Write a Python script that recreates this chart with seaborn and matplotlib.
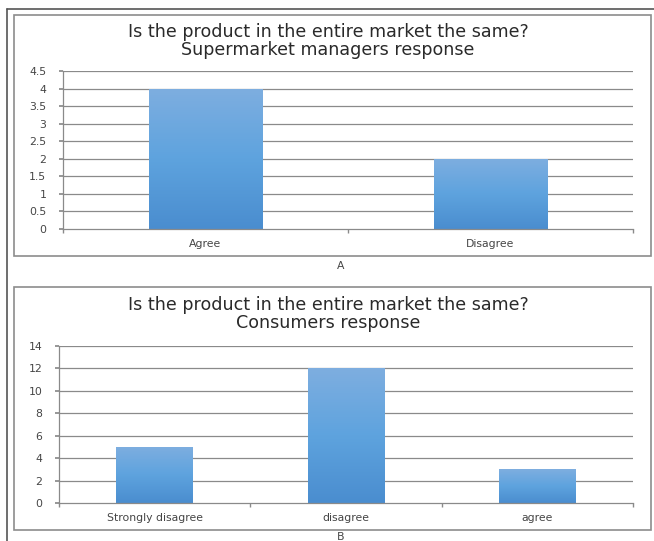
import numpy as np
import pandas as pd
import matplotlib
matplotlib.use("Agg")
import matplotlib.pyplot as plt
from matplotlib.patches import Rectangle
from matplotlib.lines import Line2D
from matplotlib.colors import LinearSegmentedColormap
import seaborn as sns

# Survey data
managers_categories = ["Agree", "Disagree"]
managers_counts = [4, 2]
managers_yticks = [0, 0.5, 1, 1.5, 2, 2.5, 3, 3.5, 4, 4.5]
managers_ytick_labels = ["0", "0.5", "1", "1.5", "2", "2.5", "3", "3.5", "4", "4.5"]

consumers_categories = ["Strongly disagree", "disagree", "agree"]
consumers_counts = [5, 12, 3]
consumers_yticks = [0, 2, 4, 6, 8, 10, 12, 14]
consumers_ytick_labels = ["0", "2", "4", "6", "8", "10", "12", "14"]

title_line1 = "Is the product in the entire market the same?"
managers_title2 = "Supermarket managers response"
consumers_title2 = "Consumers response"

sns.set_theme(style="white")
plt.rcParams["font.family"] = ["DejaVu Sans"]

W, H = 654, 541
fig = plt.figure(figsize=(W / 100, H / 100), dpi=100)
fig.patch.set_facecolor("white")

GRID = "#8a8a8a"
TEXT = "#454545"
TITLE = "#2a2a2a"
TITLE_SIZE = 12.6
TICK_SIZE = 7.8
bar_cmap = LinearSegmentedColormap.from_list(
    "bar", ["#4a8dcf", "#5ea3de", "#7eaee0"])


def px_axes(x0, y0, x1, y1):
    """Axes from pixel box (top-left origin)."""
    return fig.add_axes([x0 / W, 1 - y1 / H, (x1 - x0) / W, (y1 - y0) / H])


def frame(x0, y0, x1, y1):
    fig.add_artist(Rectangle((x0 / W, 1 - y1 / H), (x1 - x0) / W, (y1 - y0) / H,
                             transform=fig.transFigure, fill=False,
                             edgecolor="#8c8c8c", linewidth=1.2))


def draw_chart(ax, cats, vals, yticks, ylabels, ymax):
    df = pd.DataFrame({"category": cats, "count": vals})
    sns.barplot(data=df, x="category", y="count", ax=ax, width=0.4,
                color="#5ea3de", edgecolor="none", saturation=1)
    ax.set_ylim(0, ymax)
    ax.set_xlim(-0.5, len(cats) - 0.5)
    ax.set_yticks(yticks)
    ax.set_yticklabels(ylabels)
    ax.set_xlabel("")
    ax.set_ylabel("")
    for y in yticks[1:]:
        ax.axhline(y, color=GRID, linewidth=0.9, zorder=0)
    for s in ["top", "right"]:
        ax.spines[s].set_visible(False)
    for s in ["left", "bottom"]:
        ax.spines[s].set_color(GRID)
        ax.spines[s].set_linewidth(0.9)
    ax.set_xticks(np.arange(-0.5, len(cats)), minor=True)
    ax.tick_params(axis="x", which="major", length=0, labelsize=TICK_SIZE,
                   labelcolor=TEXT, pad=7)
    ax.tick_params(axis="x", which="minor", length=3, color=GRID,
                   direction="out", bottom=True)
    ax.tick_params(axis="y", length=3, color=GRID, direction="out",
                   left=True, labelsize=TICK_SIZE, labelcolor=TEXT, pad=9)
    # vertical gradient fill inside each bar
    grad = np.linspace(0, 1, 256).reshape(-1, 1)
    for p in ax.patches:
        x, y = p.get_x(), p.get_y()
        w, h = p.get_width(), p.get_height()
        p.set_facecolor("none")
        im = ax.imshow(grad, cmap=bar_cmap, aspect="auto", origin="lower",
                       extent=[x, x + w, y, y + h], zorder=2)
        im.set_clip_path(p)
    ax.set_xlim(-0.5, len(cats) - 0.5)
    ax.set_ylim(0, ymax)


# outer page border
fig.add_artist(Line2D([7 / W, 7 / W], [0, 1 - 9 / H], transform=fig.transFigure,
                      color="#555555", linewidth=1.2))
fig.add_artist(Line2D([7 / W, 1], [1 - 9 / H, 1 - 9 / H], transform=fig.transFigure,
                      color="#555555", linewidth=1.2))

# chart A
frame(14, 15, 651, 256)
axA = px_axes(63, 71, 633, 229)
draw_chart(axA, managers_categories, managers_counts, managers_yticks,
           managers_ytick_labels, 4.5)
fig.text(328 / W, 1 - 32 / H, title_line1, ha="center", va="center",
         fontsize=TITLE_SIZE, color=TITLE)
fig.text(328 / W, 1 - 50 / H, managers_title2, ha="center", va="center",
         fontsize=TITLE_SIZE, color=TITLE)
fig.text(341 / W, 1 - 266 / H, "A", ha="center", va="center", fontsize=TICK_SIZE,
         color=TEXT)

# chart B
frame(14, 287, 651, 530)
axB = px_axes(59, 346, 633, 503)
draw_chart(axB, consumers_categories, consumers_counts, consumers_yticks,
           consumers_ytick_labels, 14)
fig.text(328 / W, 1 - 305 / H, title_line1, ha="center", va="center",
         fontsize=TITLE_SIZE, color=TITLE)
fig.text(328 / W, 1 - 323 / H, consumers_title2, ha="center", va="center",
         fontsize=TITLE_SIZE, color=TITLE)
fig.text(341 / W, 1 - 537 / H, "B", ha="center", va="center", fontsize=TICK_SIZE,
         color=TEXT)

fig.savefig("out.png", dpi=100)
